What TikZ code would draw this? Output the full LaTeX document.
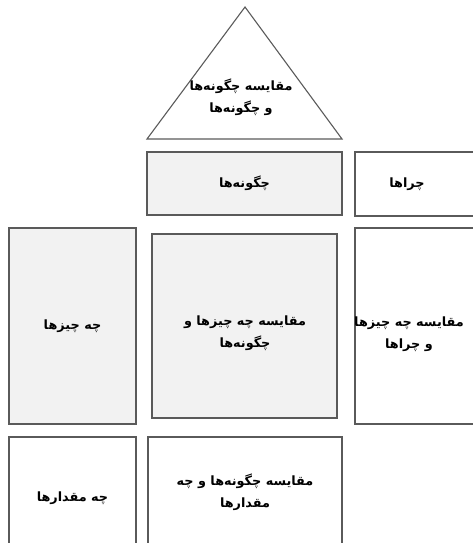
\documentclass[tikz,border=0pt]{standalone}
\usepackage{fontspec}
\newfontfamily\arabicfont[Script=Arabic]{DejaVu Sans}
\TeXXeTstate=1
\newcommand{\fa}[1]{\beginR #1\endR}
\definecolor{boxline}{HTML}{5A5A5A}
\definecolor{boxfill}{HTML}{F2F2F2}

\begin{document}
\begin{tikzpicture}[x=1pt,y=-1pt,line width=1.1pt,color=black,
    txt/.style={font=\arabicfont\bfseries\fontsize{12.8}{21.5}\selectfont,align=center,inner sep=0pt},
    box/.style={draw=boxline,rectangle,txt},
    dim/.style={box,fill=boxfill}]
    \useasboundingbox (0,0) rectangle (473,543);
    \clip (0,0) rectangle (473,543);
            \coordinate (a) at (245,7);
            \coordinate (b) at (147,139);
            \coordinate (c) at (342,139);
            \draw[boxline] (a) -- (b) -- (c) -- cycle;
            \node[txt] (0) at (241,97){\fa{مقایسه چگونه‌ها}\\\fa{و چگونه‌ها}};
			\node[dim,minimum width=195,minimum height=63] (1) at (244.5,183.5){\fa{چگونه‌ها}};
			\node[box,minimum width=130,minimum height=64] (2) at (420,184){};
			\node[txt] (2t) at (407,184){\fa{چراها}};
			\node[dim,minimum width=127,minimum height=196] (3) at (72.5,326){\fa{چه چیزها}};
			\node[dim,minimum width=185,minimum height=184] (4) at (244.5,326){};
			\node[txt] (4t) at (245,333){\fa{مقایسه چه چیزها و}\\\fa{چگونه‌ها}};
			\node[box,minimum width=130,minimum height=196] (5) at (420,326){};
			\node[txt] (5t) at (409,334){\fa{مقایسه چه چیزها}\\\fa{و چراها}};
			\node[box,minimum width=127,minimum height=123] (6) at (72.5,498.5){\fa{چه مقدارها}};
			\node[box,minimum width=194,minimum height=123] (7) at (245,498.5){};
			\node[txt] (7t) at (245,492){\fa{مقایسه چگونه‌ها و چه}\\\fa{مقدارها}};
		\end{tikzpicture}
\end{document}
